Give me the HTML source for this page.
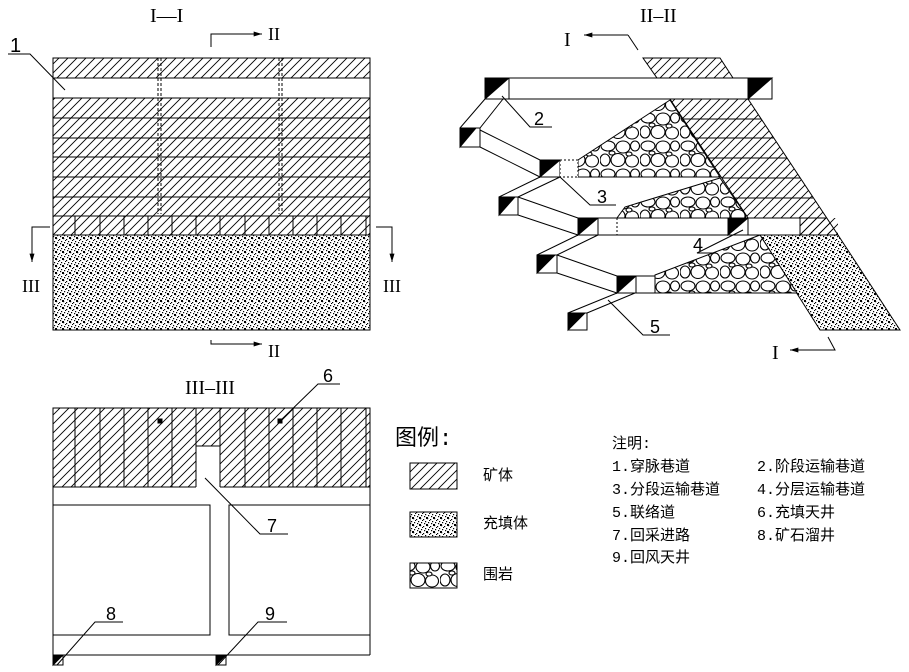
<!DOCTYPE html>
<html><head><meta charset="utf-8"><style>
html,body{margin:0;padding:0;background:#fff}
svg{display:block}
text{font-family:"Liberation Serif","Noto Serif CJK SC",serif;fill:#000}
.s{font-family:"Liberation Sans",sans-serif}
.c{font-family:"Liberation Mono","Noto Sans CJK SC",monospace;font-size:15px}
</style></head><body>
<svg width="909" height="672" viewBox="0 0 909 672" xmlns="http://www.w3.org/2000/svg">
<defs>
<pattern id="h" patternUnits="userSpaceOnUse" width="9" height="9">
<path d="M0,9 L9,0 M-3,3 L3,-3 M6,12 L12,6" stroke="#000" stroke-width="0.9"/>
</pattern>
<pattern id="d" patternUnits="userSpaceOnUse" width="7" height="7">
<rect width="7" height="7" fill="#fff"/>
<rect x="0" y="0" width="1.2" height="1.2" fill="#000"/><rect x="3" y="1" width="1.2" height="1.2" fill="#000"/>
<rect x="5" y="3" width="1.2" height="1.2" fill="#000"/><rect x="1" y="4" width="1.2" height="1.2" fill="#000"/>
<rect x="4" y="5" width="1.2" height="1.2" fill="#000"/><rect x="2" y="2" width="1" height="1" fill="#000"/>
<rect x="6" y="6" width="1" height="1" fill="#000"/><rect x="0" y="6" width="1" height="1" fill="#000"/>
<rect x="6" y="0" width="1" height="1" fill="#000"/>
</pattern>
<pattern id="r" patternUnits="userSpaceOnUse" width="40" height="28">
<rect width="40" height="28" fill="#fff"/>
<g fill="#fff" stroke="#000" stroke-width="1.1">
<ellipse cx="8" cy="6" rx="7" ry="5"/><ellipse cx="23" cy="7" rx="7" ry="6"/><ellipse cx="35" cy="6" rx="4.5" ry="5"/>
<ellipse cx="5" cy="20" rx="5" ry="6"/><ellipse cx="18" cy="20" rx="7" ry="6.5"/><ellipse cx="32" cy="21" rx="6.5" ry="6"/>
<ellipse cx="12" cy="13" rx="3" ry="2"/><ellipse cx="29" cy="14" rx="3" ry="2"/>
</g></pattern>
<marker id="a" viewBox="0 0 10 6" refX="10" refY="3" markerWidth="12" markerHeight="5" orient="auto" markerUnits="userSpaceOnUse"><path d="M0,0 L10,3 L0,6Z" fill="#000"/></marker>
</defs>
<g stroke="#000" stroke-width="1" fill="none">
<!-- I-I -->
<rect x="53" y="58" width="317" height="20" fill="url(#h)"/>
<rect x="53" y="98" width="317" height="118" fill="url(#h)"/>
<rect x="53" y="216" width="317" height="19" fill="url(#h)"/>
<rect x="53" y="235" width="317" height="95" fill="url(#d)"/>
<rect x="53" y="58" width="317" height="272"/>
<path d="M53,78H370M53,98H370M53,118H370M53,138H370M53,157H370M53,177H370M53,197H370M53,216H370M53,235H370"/>
<path d="M75,216V235M100,216V235M124,216V235M148,216V235M172,216V235M196,216V235M220,216V235M245,216V235M269,216V235M293,216V235M317,216V235M341,216V235M366,216V235"/>
<path d="M158,58V214M161,58V214M279,58V214M282,58V214" stroke-dasharray="3,2"/>
<path d="M211,47V34H262" marker-end="url(#a)"/>
<path d="M211,340V344H262" marker-end="url(#a)"/>
<path d="M50,227H32V262" marker-end="url(#a)"/>
<path d="M376,227H392V262" marker-end="url(#a)"/>
<path d="M8,54H30L65,90"/>
<!-- II-II -->
<polygon points="643,58 720,58 733,78 657,78" fill="url(#h)"/>
<polygon points="670,99 748,99 838,235 800,235 800,218 748,218" fill="url(#h)"/>
<path d="M683,119H761M696,138H774M709,158H787M722,178H800M735,198H813"/>
<polygon points="760,235 838,235 900,330 820,330" fill="url(#d)"/>
<polygon points="670,100 578,160 578,177 720,177" fill="url(#r)"/>
<polygon points="720,178 625,207 617,218 748,218" fill="url(#r)"/>
<polygon points="760,235 655,275 655,293 797,293" fill="url(#r)"/>
<rect x="485" y="78" width="287" height="21" fill="#fff"/>
<rect x="485" y="78" width="24" height="21" fill="#fff"/><polygon points="485,78 509,78 485,99" fill="#000"/>
<rect x="748" y="78" width="24" height="21" fill="#fff"/><polygon points="748,78 772,78 748,99" fill="#000"/>
<path d="M485,99L460,128M503,99L480,128"/>
<rect x="460" y="128" width="20" height="19" fill="#fff"/><polygon points="460,128 476,128 460,147" fill="#000"/>
<path d="M480,130L540,160M480,147L540,177M540,177L499,197M560,177L518,197"/>
<rect x="540" y="160" width="20" height="17" fill="#fff"/><polygon points="540,160 560,160 540,177" fill="#000"/>
<rect x="560" y="160" width="18" height="17" fill="#fff" stroke-dasharray="2,2"/>
<rect x="499" y="197" width="19" height="18" fill="#fff"/><polygon points="499,197 515,197 499,215" fill="#000"/>
<path d="M518,197L578,218M518,215L578,235"/>
<rect x="578" y="218" width="222" height="17" fill="#fff"/>
<polygon points="578,218 598,218 578,235" fill="#000"/><path d="M598,218V235"/>
<path d="M617,218V235" stroke-dasharray="2,2"/>
<polygon points="728,218 748,218 728,235" fill="#000"/><path d="M728,218V235M748,218V235"/>
<rect x="800" y="218" width="38" height="17" fill="url(#h)" stroke="none"/>
<path d="M800,218H827M800,218V235H838"/>
<path d="M578,235L537,255M598,235L557,255"/>
<rect x="537" y="255" width="20" height="18" fill="#fff"/><polygon points="537,255 555,255 537,273" fill="#000"/>
<path d="M557,255L617,276M557,273L617,293"/>
<rect x="617" y="276" width="19" height="17" fill="#fff"/><polygon points="617,276 636,276 617,293" fill="#000"/>
<rect x="636" y="276" width="19" height="17" fill="#fff"/>
<path d="M617,293L568,313M635,293L587,313"/>
<rect x="568" y="313" width="19" height="17" fill="#fff"/><polygon points="568,313 585,313 568,330" fill="#000"/>
<path d="M628,35L638,50"/><path d="M628,35H584" marker-end="url(#a)"/>
<path d="M828,337L835,350H790" marker-end="url(#a)"/>
<path d="M502,96L530,127H552M560,177L590,205H616M743,230L697,253H716M608,300L643,335H670"/>
<!-- III-III -->
<rect x="53" y="408" width="317" height="79" fill="url(#h)"/>
<path d="M75,408V487M100,408V487M124,408V487M148,408V487M172,408V487M245,408V487M269,408V487M293,408V487M317,408V487M341,408V487M366,408V487"/>
<rect x="196" y="446" width="24" height="42" fill="#fff" stroke="none"/>
<path d="M196,408V487M220,408V487M196,446H220"/>
<path d="M53,408H370M53,408V665M370,408V655M53,487H196M220,487H370M53,505H210V635H53M370,505H229V635H370M53,655H370"/>
<rect x="158" y="419" width="4" height="4" fill="#000"/><rect x="278" y="419" width="4" height="4" fill="#000"/>
<rect x="53" y="655" width="10" height="10" fill="#fff"/><polygon points="53,655 63,655 53,665" fill="#000"/>
<rect x="216" y="655" width="10" height="10" fill="#fff"/><polygon points="216,655 226,655 216,665" fill="#000"/>
<path d="M340,384H318L280,421M205,478L260,534H288M123,622H95L57,665M287,622H258L218,665"/>
<!-- legend -->
<rect x="410" y="463" width="47" height="26" fill="url(#h)"/>
<rect x="410" y="512" width="47" height="25" fill="url(#d)"/>
<rect x="410" y="563" width="47" height="25" fill="url(#r)"/>
</g>
<text x="150" y="22" font-size="20">I—I</text>
<text x="268" y="40" font-size="18">II</text>
<text x="268" y="357" font-size="18">II</text>
<text x="22" y="292" font-size="18">III</text>
<text x="383" y="292" font-size="18">III</text>
<text x="10" y="52" font-size="20" class="s">1</text>
<text x="640" y="22" font-size="20">II–II</text>
<text x="564" y="46" font-size="20">I</text>
<text x="772" y="359" font-size="20">I</text>
<text x="534" y="125" font-size="18" class="s">2</text>
<text x="597" y="203" font-size="18" class="s">3</text>
<text x="693" y="251" font-size="18" class="s">4</text>
<text x="650" y="333" font-size="18" class="s">5</text>
<text x="185" y="394" font-size="20">III–III</text>
<text x="323" y="382" font-size="18" class="s">6</text>
<text x="267" y="532" font-size="18" class="s">7</text>
<text x="106" y="620" font-size="18" class="s">8</text>
<text x="265" y="620" font-size="18" class="s">9</text>
<text x="395" y="445" class="c" style="font-size:22px">图例:</text>
<text x="483" y="480" class="c">矿体</text>
<text x="483" y="528" class="c">充填体</text>
<text x="483" y="579" class="c">围岩</text>
<text x="612" y="448" class="c">注明:</text>
<text x="612" y="471" class="c">1.穿脉巷道</text>
<text x="612" y="494" class="c">3.分段运输巷道</text>
<text x="612" y="517" class="c">5.联络道</text>
<text x="612" y="540" class="c">7.回采进路</text>
<text x="612" y="562" class="c">9.回风天井</text>
<text x="757" y="471" class="c">2.阶段运输巷道</text>
<text x="757" y="494" class="c">4.分层运输巷道</text>
<text x="757" y="517" class="c">6.充填天井</text>
<text x="757" y="540" class="c">8.矿石溜井</text>
</svg>
</body></html>
